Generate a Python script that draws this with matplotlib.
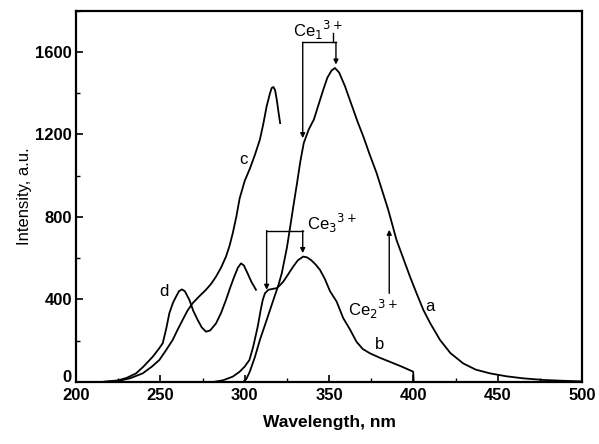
import matplotlib
matplotlib.use("Agg")
import matplotlib.pyplot as plt
import matplotlib.transforms as mtransforms
from matplotlib.ticker import MultipleLocator

plt.rcParams['font.family'] = ['Liberation Sans', 'DejaVu Sans']

# Curve a
a_x = [299, 301, 303, 306, 309, 313, 317, 320, 322, 325, 327, 329, 331, 333, 335, 338, 341, 344,
       346.6, 349, 351.5, 353.5, 356, 359.5, 362, 364.4, 367, 370.3, 374, 378.2, 382, 385.1, 390,
       394, 398, 402, 405.9, 410, 415.8, 422, 429.6, 437, 445.4, 455, 465, 477, 489, 500]
a_y = [0, 15, 50, 120, 204, 300, 398, 470, 528, 650, 754, 860, 963, 1070, 1158, 1225, 1272, 1350,
       1417, 1475, 1510, 1522, 1500, 1433, 1375, 1320, 1260, 1191, 1105, 1013, 915, 835, 689,
       600, 511, 428, 350, 285, 204, 140, 90, 60, 42, 28, 18, 10, 6, 3]
# Curve b
b_x = [281, 287, 292.9, 297, 300, 302.8, 305, 307.7, 309.5, 310.7, 312, 314, 317, 319, 321, 322.9,
       326, 328.8, 331.5, 334.7, 337, 339.5, 342, 344.6, 347.5, 350.6, 354.5, 358.4, 362.4, 366.3,
       370, 374.3, 380, 386.1, 393, 399.9, 400.2]
b_y = [0, 8, 26, 50, 75, 107, 170, 268, 350, 398, 430, 447, 452, 455, 470, 487,
       525, 560, 590, 608, 604, 590, 570, 544, 500, 440, 390, 310, 255, 195,
       160, 139, 118, 98, 75, 50, 0]
# Curve c
c_x = [215, 225, 232, 239.5, 245, 249.4, 253, 257.3, 260, 263.2, 266, 269.1, 273, 277, 280, 283,
       286, 288.9, 291, 292.9, 295, 297, 300, 303.1, 306, 309, 311, 313, 315, 316, 317, 318, 319,
       320, 321]
c_y = [0, 5, 18, 42, 75, 107, 150, 204, 250, 301, 345, 382, 415, 447, 475, 511,
       555, 608, 660, 721, 800, 890, 975, 1035, 1100, 1175, 1250, 1336, 1400, 1425, 1430, 1415, 1369,
       1310, 1255]
# Curve d
d_x = [215, 225, 230, 235.6, 240, 245.5, 249, 251.4, 253.5, 255.3, 257.5, 259.3, 261, 262.8, 264.5,
       267.2, 269.5, 272.1, 274.5, 277, 279.5, 283, 286, 288.9, 291.5, 293.8, 296, 297.8, 299.5,
       301.7, 304, 306.7]
d_y = [0, 8, 20, 42, 75, 123, 160, 188, 260, 333, 385, 414, 440, 449, 440,
       398, 345, 301, 265, 244, 250, 284, 335, 398, 460, 511, 555, 575, 565,
       527, 485, 447]

x_ticks = [200, 250, 300, 350, 400, 450, 500]
y_ticks = [0, 400, 800, 1200, 1600]

fig = plt.figure(figsize=(5.99, 4.44), dpi=100)
ax = fig.add_axes([0.127, 0.1396, 0.8446, 0.8364])
lw = 1.3
for xs, ys in [(a_x, a_y), (b_x, b_y), (c_x, c_y), (d_x, d_y)]:
    ax.plot(xs, ys, color='black', lw=lw, solid_joinstyle='round')

ax.set_xlim(200, 500)
ax.set_ylim(0, 1800)
ax.set_xticks(x_ticks)
ax.set_yticks(y_ticks)
ax.xaxis.set_minor_locator(MultipleLocator(25))
ax.yaxis.set_minor_locator(MultipleLocator(200))
ax.tick_params(which='major', direction='in', length=5, width=1.2, labelsize=12)
ax.tick_params(which='minor', direction='in', length=3, width=1.0)
for s in ax.spines.values():
    s.set_linewidth(1.6)
for lab in ax.get_xticklabels() + ax.get_yticklabels():
    lab.set_fontweight('bold')
ax.tick_params(axis='x', pad=4)
ax.tick_params(axis='y', pad=3)
ax.set_xlabel('Wavelength, nm', fontsize=12.5, fontweight='bold', labelpad=9)
ax.set_ylabel('Intensity, a.u.', fontsize=12, labelpad=2)

# lift the "0" y tick label slightly, as in the reference
zero_lab = ax.get_yticklabels()[0]
zero_lab.set_transform(zero_lab.get_transform() +
                       mtransforms.ScaledTranslation(0, 4 / 72, fig.dpi_scale_trans))

fs = 12
# curve labels
ax.text(299, 1078, 'c', fontsize=fs, ha='center', va='center')
ax.text(252.3, 438, 'd', fontsize=fs, ha='center', va='center')
ax.text(409.8, 365, 'a', fontsize=fs, ha='center', va='center')
ax.text(380.2, 180, 'b', fontsize=fs, ha='center', va='center')

arrow_kw = dict(arrowstyle='-|>', color='black', lw=1.0, mutation_scale=7, shrinkA=0, shrinkB=0)
# Ce1 bracket
ax.plot([334.4, 354.1], [1647, 1647], color='black', lw=1.0)
ax.plot([352.5, 352.5], [1647, 1690], color='black', lw=1.0)
ax.annotate('', xy=(334.4, 1182), xytext=(334.4, 1647), arrowprops=arrow_kw)
ax.annotate('', xy=(354.1, 1539), xytext=(354.1, 1647), arrowprops=arrow_kw)
ax.text(343.6, 1705, r'Ce$_{1}$$^{3+}$', fontsize=fs, ha='center', va='center')
# Ce3 bracket
ax.plot([313, 334.4], [734, 734], color='black', lw=1.0)
ax.annotate('', xy=(313, 447), xytext=(313, 734), arrowprops=arrow_kw)
ax.annotate('', xy=(334.4, 625), xytext=(334.4, 734), arrowprops=arrow_kw)
ax.text(337, 770, r'Ce$_{3}$$^{3+}$', fontsize=fs, ha='left', va='center')
# Ce2 arrow
ax.annotate('', xy=(385.7, 738), xytext=(385.7, 430), arrowprops=arrow_kw)
ax.text(376, 350, r'Ce$_{2}$$^{3+}$', fontsize=fs, ha='center', va='center')

fig.savefig('out.png', dpi=100)
